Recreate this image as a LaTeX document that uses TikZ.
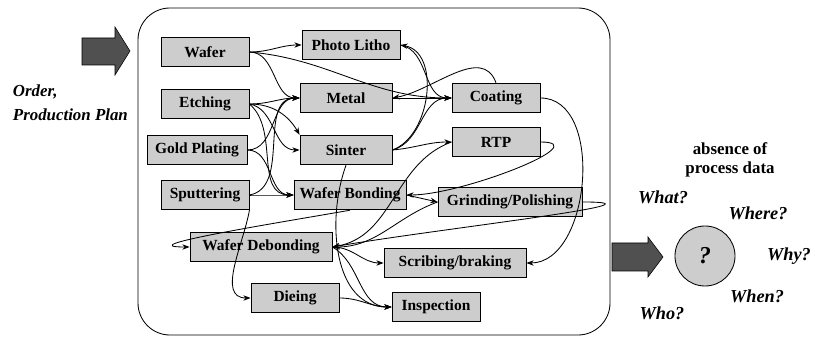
\documentclass[tikz,border=0pt]{standalone}
\usepackage{fontspec}
\setmainfont{Liberation Serif}
\usepackage{tikz}
\usetikzlibrary{arrows.meta, positioning}
\definecolor{cBox}{RGB}{205,205,205}
\definecolor{cFat}{RGB}{80,80,80}
\tikzset{
	stepbox/.style ={rectangle, draw=black, semithick, fill=cBox, minimum width=2.2cm, minimum height=0.74cm, inner xsep=3pt, font=\bfseries\fontsize{11}{13}\selectfont},
	flow/.style    ={-{Stealth[length=1.8mm]}, semithick},
	fatarrow/.style={draw=black, fill=cFat, thin},
	ask/.style     ={font=\bfseries\itshape\fontsize{13}{15}\selectfont},
}
\begin{document}
\begin{tikzpicture}[x=0.025cm, y=-0.025cm]
	\useasboundingbox (0,0) rectangle (815,339);
	% production frame
	\draw[semithick, rounded corners=0.8cm] (138,8) rectangle (610,335);
	% process steps
	\node[stepbox] (wafer) at (205,52) {Wafer};
	\node[stepbox, minimum width=2.45cm] (litho) at (351,45) {Photo Litho};
	\node[stepbox] (etching) at (205,104) {Etching};
	\node[stepbox, minimum width=2.3cm] (metal) at (346,98) {Metal};
	\node[stepbox] (coating) at (496,98) {Coating};
	\node[stepbox, minimum width=2.5cm] (gold) at (197,150) {Gold Plating};
	\node[stepbox, minimum width=2.3cm] (sinter) at (346,150) {Sinter};
	\node[stepbox] (rtp) at (496,142) {RTP};
	\node[stepbox] (sputter) at (205,195) {Sputtering};
	\node[stepbox, minimum width=2.8cm] (wbond) at (350,195) {Wafer Bonding};
	\node[stepbox, minimum width=3.6cm] (grind) at (510,202) {Grinding/Polishing};
	\node[stepbox, minimum width=3.55cm] (wdebond) at (261,247) {Wafer Debonding};
	\node[stepbox, minimum width=3.55cm] (scribe) at (455,263) {Scribing/braking};
	\node[stepbox] (dieing) at (295,298) {Dieing};
	\node[stepbox] (inspect) at (436,307) {Inspection};
	% material flow
	\draw[flow] (wafer.east) to[out=0,in=180] (litho.west);
	\draw[flow] (wafer.east) to[out=0,in=180] (metal.west);
	\draw[flow] (wafer.east) to[out=-5,in=180] (coating.west);
	\draw[flow] (etching.east) to[out=0,in=180] (metal.west);
	\draw[flow] (etching.east) to[out=0,in=120] (sinter.north west);
	\draw[flow] (etching.east) to[out=-10,in=180] (sinter.west);
	\draw[flow] (etching.east) to[out=-40,in=180] (wbond.west);
	\draw[flow] (gold.east) to[out=0,in=180] (metal.west);
	\draw[flow] (gold.east) to[out=0,in=180] (wbond.west);
	\draw[flow] (sputter.east) to[out=0,in=180] (wbond.west);
	\draw[flow] (sputter.east) to[out=10,in=180] (metal.west);
	\draw[flow] (sputter.south east) to[out=-100,in=180] (dieing.west);
	\draw[flow] (litho.east) to[out=-10,in=180] (coating.west);
	\draw[flow] (sinter.east) to[out=20,in=-10] (litho.east);
	\draw[flow] (metal.east) to (coating.west);
	\draw[flow] (coating.north) to[out=110,in=10] (metal.east);
	\draw[flow] (sinter.east) to[out=5,in=180] (rtp.west);
	\draw[flow] (sinter.east) to[out=15,in=180] (coating.west);
	\draw[flow] (coating.east) to[out=0,in=0] (scribe.east);
	\draw[flow] (rtp.east) to[out=0,in=0] (wbond.east);
	\draw[flow] (rtp.west) to[out=200,in=10] (wdebond.east);
	\draw[flow] (wbond.east) to (grind.west);
	\draw[flow] (grind.east) to[out=0,in=10] (wdebond.east);
	\draw[flow] (grind.west) to[out=200,in=0] (wdebond.east);
	\draw[flow] (wbond.south) to[out=-170,in=180] (wdebond.west);
	\draw[flow] (wdebond.east) to[out=0,in=180] (scribe.west);
	\draw[flow] (wdebond.east) to[out=-30,in=180] (inspect.west);
	\draw[flow] (sinter.south) to[out=-110,in=180] (inspect.west);
	\draw[flow] (dieing.east) to[out=0,in=180] (inspect.west);
	% input and output
	\draw[fatarrow] (82,38) -- (115,38) -- (115,27) -- (130,51) -- (115,75) -- (115,65) -- (82,65) -- cycle;
	\node[ask, font=\bfseries\itshape\fontsize{12}{17}\selectfont, align=left, anchor=north west] (plan) at (8,80) {Order,\\Production Plan};
	\draw[fatarrow] (612,243) -- (648,243) -- (648,237) -- (663,257) -- (648,277) -- (648,271) -- (612,271) -- cycle;
	\node[circle, draw=black, semithick, fill=cBox, minimum size=1.5cm] (absent) at (705,256) {\bfseries\itshape\LARGE ?};
	\node[font=\bfseries\fontsize{12}{14}\selectfont, align=center] (note) at (730,160) {absence of\\process data};
	\node[ask] (what) at (663,197) {What?};
	\node[ask] (where) at (758,213) {Where?};
	\node[ask] (why) at (789,256) {Why?};
	\node[ask] (when) at (757,296) {When?};
	\node[ask] (who) at (662,313) {Who?};
\end{tikzpicture}
\end{document}
